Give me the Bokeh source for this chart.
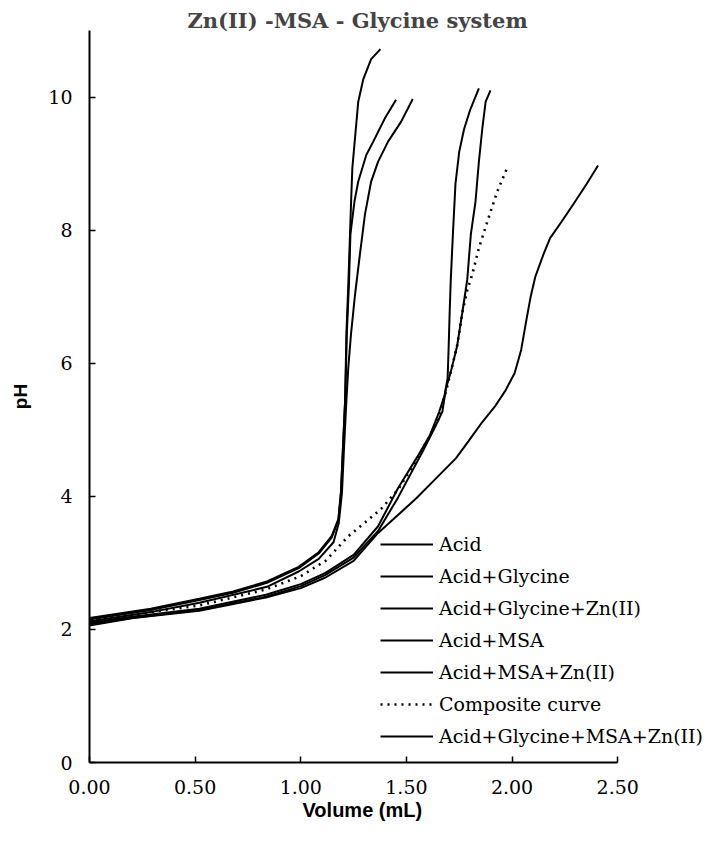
from bokeh.plotting import figure
from bokeh.models import Legend, LegendItem, FixedTicker, NumeralTickFormatter, Range1d, Title
from bokeh.embed import file_html
from bokeh.resources import INLINE

title_text = "Zn(II) -MSA - Glycine system"
x_label = "Volume (mL)"
y_label = "pH"
x_ticks = [0.0, 0.5, 1.0, 1.5, 2.0, 2.5]
y_ticks = [0, 2, 4, 6, 8, 10]

series_names = ["Acid", "Acid+Glycine", "Acid+Glycine+Zn(II)", "Acid+MSA",
                "Acid+MSA+Zn(II)", "Composite curve", "Acid+Glycine+MSA+Zn(II)"]

acid_x = [0.00, 0.29, 0.52, 0.68, 0.84, 0.99, 1.085, 1.146, 1.178, 1.19, 1.20, 1.21,
          1.216, 1.225, 1.233, 1.238, 1.244, 1.258, 1.272, 1.296, 1.333, 1.377]
acid_y = [2.17, 2.31, 2.46, 2.57, 2.72, 2.94, 3.16, 3.40, 3.66, 4.06, 4.75, 5.45,
          6.45, 7.19, 7.94, 8.42, 8.93, 9.43, 9.93, 10.27, 10.57, 10.72]

gly_x = [0.00, 0.20, 0.52, 0.835, 1.00, 1.117, 1.25, 1.366, 1.46, 1.547, 1.61, 1.655,
         1.68, 1.695, 1.70, 1.705, 1.71, 1.72, 1.732, 1.75, 1.773, 1.803, 1.843]
gly_y = [2.10, 2.19, 2.31, 2.52, 2.68, 2.85, 3.12, 3.55, 4.12, 4.57, 4.91, 5.27,
         5.51, 5.77, 6.26, 6.80, 7.26, 7.94, 8.69, 9.18, 9.52, 9.82, 10.13]

glyzn_x = [0.00, 0.20, 0.52, 0.835, 1.00, 1.117, 1.25, 1.366, 1.46, 1.578, 1.632, 1.67,
           1.687, 1.71, 1.74, 1.765, 1.788, 1.805, 1.827, 1.843, 1.859, 1.875, 1.898]
glyzn_y = [2.08, 2.17, 2.29, 2.49, 2.65, 2.82, 3.08, 3.48, 3.98, 4.68, 5.02, 5.27,
           5.62, 5.87, 6.26, 6.77, 7.26, 7.94, 8.43, 9.03, 9.52, 9.93, 10.10]

msa_x = [0.00, 0.29, 0.52, 0.68, 0.84, 0.99, 1.085, 1.146, 1.178, 1.19, 1.20, 1.21,
         1.218, 1.228, 1.235, 1.254, 1.272, 1.31, 1.343, 1.398, 1.451]
msa_y = [2.15, 2.29, 2.44, 2.55, 2.70, 2.92, 3.14, 3.38, 3.64, 4.04, 4.75, 5.45,
         6.45, 7.19, 7.94, 8.43, 8.73, 9.13, 9.33, 9.68, 9.96]

msazn_x = [0.00, 0.29, 0.52, 0.84, 0.99, 1.085, 1.155, 1.18, 1.195, 1.205, 1.216, 1.225,
           1.238, 1.257, 1.28, 1.304, 1.333, 1.366, 1.413, 1.475, 1.53]
msazn_y = [2.12, 2.26, 2.40, 2.64, 2.87, 3.06, 3.31, 3.60, 4.06, 4.75, 5.45, 5.94,
           6.45, 7.04, 7.64, 8.24, 8.73, 9.03, 9.33, 9.63, 9.97]

comp_x = [0.00, 0.20, 0.52, 0.835, 1.00, 1.117, 1.225, 1.305, 1.38, 1.46, 1.54, 1.60,
          1.65, 1.685, 1.71, 1.74, 1.765, 1.788, 1.812, 1.843, 1.883, 1.93, 1.98]
comp_y = [2.12, 2.22, 2.36, 2.60, 2.80, 3.03, 3.40, 3.61, 3.81, 4.10, 4.50, 4.85,
          5.15, 5.55, 5.87, 6.26, 6.77, 7.10, 7.34, 7.73, 8.13, 8.58, 8.96]

all_x = [0.00, 0.207, 0.52, 0.835, 1.00, 1.117, 1.25, 1.366, 1.46, 1.547, 1.64, 1.734,
         1.794, 1.86, 1.921, 1.967, 2.012, 2.043, 2.065, 2.088, 2.11, 2.149, 2.18,
         2.235, 2.29, 2.352, 2.407]
all_y = [2.06, 2.17, 2.28, 2.48, 2.62, 2.78, 3.03, 3.45, 3.72, 3.97, 4.27, 4.57,
         4.83, 5.12, 5.36, 5.58, 5.85, 6.20, 6.60, 7.00, 7.30, 7.64, 7.88,
         8.13, 8.39, 8.69, 8.97]

series_x = [acid_x, gly_x, glyzn_x, msa_x, msazn_x, comp_x, all_x]
series_y = [acid_y, gly_y, glyzn_y, msa_y, msazn_y, comp_y, all_y]
series_dash = ["solid", "solid", "solid", "solid", "solid", "2 5", "solid"]

SERIF = "DejaVu Serif"
SANS = "Liberation Sans"

p = figure(width=709, height=826, output_backend="svg", toolbar_location=None,
           x_range=Range1d(0, 2.925), y_range=Range1d(0, 11.0),
           min_border_left=89, min_border_right=2, min_border_top=30, min_border_bottom=64)
p.title.text = title_text
p.title.align = "left"
p.title.offset = 98
p.title.text_font = SERIF
p.title.text_font_style = "bold"
p.title.text_font_size = "21px"
p.title.standoff = -5
p.outline_line_color = None
p.grid.visible = False
p.background_fill_color = "white"
p.border_fill_color = "white"

items = []
for name, xs, ys, dash in zip(series_names, series_x, series_y, series_dash):
    lw = 2.6 if dash != "solid" else 2.0
    r = p.line(xs, ys, line_color="black", line_width=lw, line_dash=dash)
    items.append(LegendItem(label=name, renderers=[r]))

legend = Legend(items=items, location=(291, 15), orientation="vertical",
                glyph_width=53, glyph_height=20, label_height=20, spacing=10,
                label_standoff=6, padding=0, margin=0,
                label_text_font=SERIF, label_text_font_size="19px",
                label_text_color="black",
                border_line_color=None, background_fill_alpha=0)
p.add_layout(legend)

for ax in (p.xaxis[0], p.yaxis[0]):
    ax.axis_line_color = "black"
    ax.axis_line_width = 2
    ax.major_tick_in = 6
    ax.major_tick_out = 0
    ax.major_tick_line_color = "black"
    ax.major_tick_line_width = 1.5
    ax.minor_tick_line_color = None
    ax.major_label_text_font = SERIF
    ax.major_label_text_font_size = "19px"
    ax.major_label_text_color = "black"
    ax.axis_label_text_font = SANS
    ax.axis_label_text_font_style = "bold"
    ax.axis_label_text_font_size = "19px"
    ax.axis_label_text_color = "black"

p.xaxis[0].ticker = FixedTicker(ticks=x_ticks)
p.xaxis[0].formatter = NumeralTickFormatter(format="0.00")
p.xaxis[0].bounds = (0, 2.5)
p.xaxis[0].major_label_standoff = 17

x_title = Title(text=x_label, align="left", offset=213, text_font=SANS,
                text_font_style="bold", text_font_size="20px", text_color="black",
                standoff=0)
p.add_layout(x_title, "below")

p.yaxis[0].ticker = FixedTicker(ticks=y_ticks)
p.yaxis[0].axis_label = y_label
p.yaxis[0].major_label_standoff = 17
p.yaxis[0].axis_label_standoff = 14

open("out.html", "w").write(file_html(p, INLINE))
